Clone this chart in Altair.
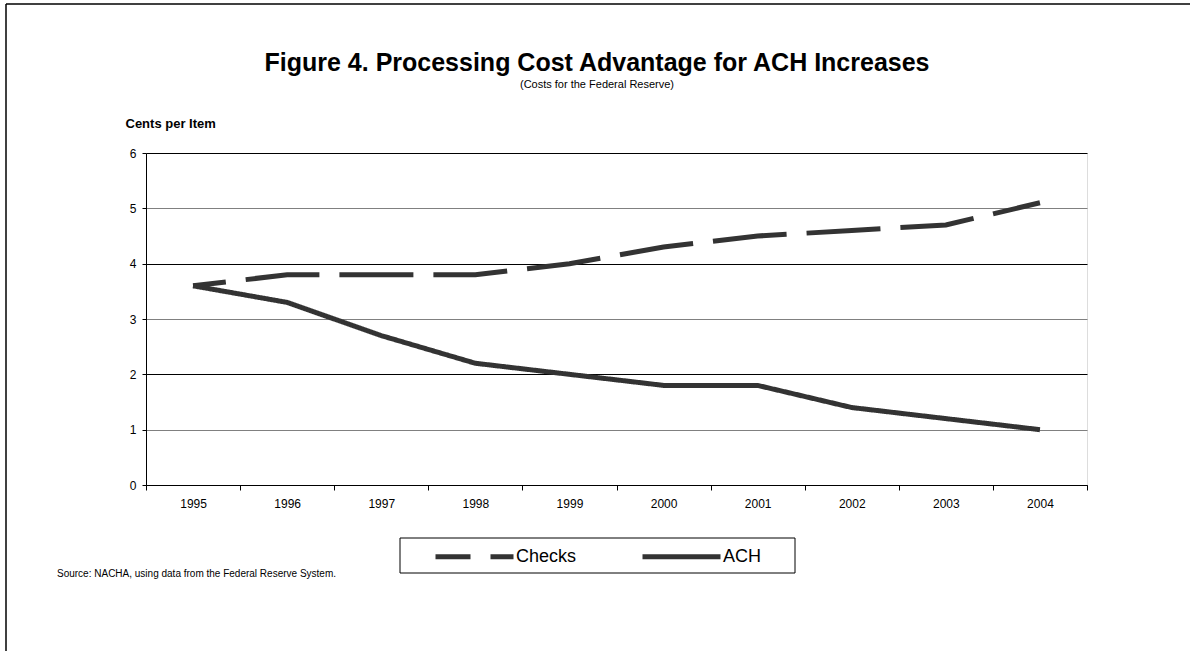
import altair as alt
import pandas as pd

# Federal Reserve processing cost, cents per item
years = [1995, 1996, 1997, 1998, 1999, 2000, 2001, 2002, 2003, 2004]
checks = [3.6, 3.8, 3.8, 3.8, 4.0, 4.3, 4.5, 4.6, 4.7, 5.1]
ach = [3.6, 3.3, 2.7, 2.2, 2.0, 1.8, 1.8, 1.4, 1.2, 1.0]
series = ["Checks", "ACH"]
y_ticks = [0, 1, 2, 3, 4, 5, 6]

title_text = "Figure 4. Processing Cost Advantage for ACH Increases"
subtitle_text = "(Costs for the Federal Reserve)"
source_text = "Source: NACHA, using data from the Federal Reserve System."

FONT = "Liberation Sans, Arial, sans-serif"
INK = "#333333"

df = pd.DataFrame({
    "year": years * 2,
    "cents": checks + ach,
    "series": [series[0]] * len(years) + [series[1]] * len(years),
})

# plot area geometry (pixels)
W, H = 941, 332
LEFT, TOP = 146, 153

lines = alt.Chart(df).mark_line(
    strokeWidth=5, color=INK, strokeCap="butt", strokeDashOffset=41
).encode(
    x=alt.X(
        "year:O",
        scale=alt.Scale(type="band", paddingInner=0, paddingOuter=0),
        axis=alt.Axis(
            title=None, labelAngle=0, tickBand="extent", grid=False,
            domainColor="black", tickColor="black", tickSize=5,
            labelFont=FONT, labelFontSize=12, labelColor="black", labelPadding=8,
        ),
    ),
    y=alt.Y(
        "cents:Q",
        scale=alt.Scale(domain=[0, 6], nice=False),
        axis=alt.Axis(
            values=y_ticks, format="d",
            title="Cents per Item", titleAngle=0, titleAlign="left",
            titleBaseline="alphabetic", titleX=125 - LEFT, titleY=127 - TOP,
            titleFont=FONT, titleFontSize=13, titleFontWeight="bold", titleColor="black",
            grid=True,
            gridColor={"condition": {"test": "datum.value % 2 === 0", "value": "#000000"},
                       "value": "#808080"},
            gridWidth=1,
            domainColor="black", tickColor="black", tickSize=4,
            labelFont=FONT, labelFontSize=12, labelColor="black", labelPadding=6,
        ),
    ),
    strokeDash=alt.StrokeDash(
        "series:N",
        scale=alt.Scale(domain=series, range=[[74, 20], [1, 0]]),
        legend=alt.Legend(
            title=None, orient="none", direction="horizontal",
            legendX=433 - LEFT, legendY=554 - TOP - 39,
            symbolType="stroke", symbolSize=78 * 78, symbolStrokeWidth=5,
            symbolStrokeColor=INK, symbolDashOffset=39,
            labelFont=FONT, labelFontSize=18, labelColor="black", labelOffset=0,
            columnPadding=55, padding=0,
        ),
    ),
)

one = alt.Data(values=[{}])

title = alt.Chart(one).mark_text(
    text=title_text, font=FONT, fontSize=25, fontWeight="bold",
    align="center", baseline="alphabetic", color="black",
).encode(x=alt.value(597 - LEFT), y=alt.value(71 - TOP))

subtitle = alt.Chart(one).mark_text(
    text=subtitle_text, font=FONT, fontSize=11,
    align="center", baseline="alphabetic", color="black",
).encode(x=alt.value(597 - LEFT), y=alt.value(88 - TOP))

source = alt.Chart(one).mark_text(
    text=source_text, font=FONT, fontSize=10,
    align="left", baseline="alphabetic", color="black",
).encode(x=alt.value(57 - LEFT), y=alt.value(577 - TOP))

# legend frame
legend_box = alt.Chart(one).mark_rect(
    fill="white", fillOpacity=0, stroke="black", strokeWidth=1
).encode(
    x=alt.value(400 - LEFT), x2=alt.value(795 - LEFT),
    y=alt.value(538 - TOP), y2=alt.value(573 - TOP),
)

# outer figure frame (left and top edges)
frame_left = alt.Chart(one).mark_rule(color="black", strokeWidth=1.5).encode(
    x=alt.value(6 - LEFT), y=alt.value(4 - TOP), y2=alt.value(651 - TOP)
)
frame_top = alt.Chart(one).mark_rule(color="black", strokeWidth=1.5).encode(
    x=alt.value(6 - LEFT), x2=alt.value(1190 - LEFT), y=alt.value(4 - TOP)
)

chart = alt.layer(
    legend_box, lines, title, subtitle, source, frame_left, frame_top
).properties(
    width=W, height=H, autosize="none",
    padding={"left": LEFT, "top": TOP, "right": 1190 - LEFT - W, "bottom": 651 - TOP - H},
).configure_view(
    stroke="#808080", strokeWidth=1
).configure(background="white")

chart.save("out.html", embed_options={"renderer": "svg", "actions": False})
